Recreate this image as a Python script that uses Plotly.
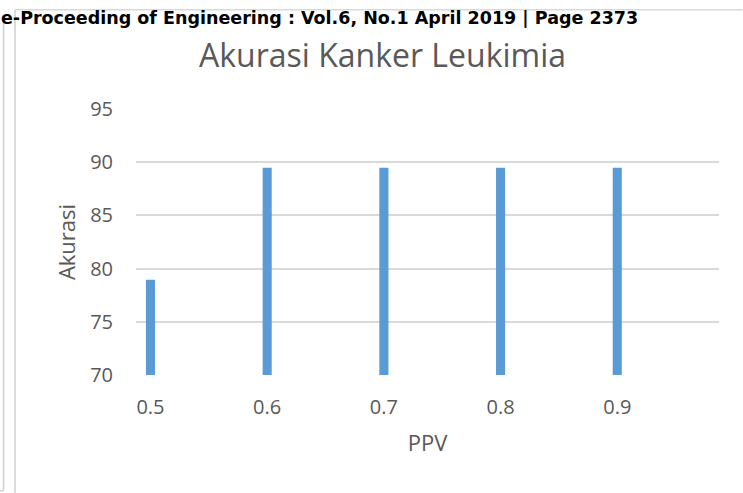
import plotly.graph_objects as go

# ---- data ----
ppv = [0.5, 0.6, 0.7, 0.8, 0.9]
akurasi = [78.95, 89.47, 89.47, 89.47, 89.47]
x_tick_labels = ["0.5", "0.6", "0.7", "0.8", "0.9"]
y_ticks = [70, 75, 80, 85, 90, 95]

W, H = 743, 493
L, R, T, B = 136, 743 - 719.3, 109.3, 493 - 375.3
PW, PH = W - L - R, H - T - B

def px(xp):
    return (xp - L) / PW

def py(yp):
    return (H - B - yp) / PH

GREY = "#595959"
fig = go.Figure()
fig.add_trace(go.Bar(
    x=ppv, y=akurasi, width=0.0078,
    marker=dict(color="#5B9BD5", line=dict(width=0)),
    base=0,
))

fig.update_layout(
    width=W, height=H,
    margin=dict(l=L, r=R, t=T, b=B, pad=0),
    paper_bgcolor="white", plot_bgcolor="white",
    showlegend=False,
    font=dict(family="Open Sans", color=GREY),
    xaxis=dict(
        range=[0.48758, 0.98719], tickvals=ppv, ticktext=x_tick_labels,
        showgrid=False, zeroline=False, showline=False,
        tickfont=dict(size=20, color=GREY), ticklabelstandoff=18,
        title=dict(text="PPV", font=dict(size=22, color=GREY), standoff=16),
    ),
    yaxis=dict(
        range=[70, 95], tickvals=y_ticks,
        showgrid=True, gridcolor="#D9D9D9", gridwidth=1.5,
        zeroline=False, showline=False,
        tickfont=dict(size=20, color=GREY), ticklabelstandoff=22,
        title=dict(text="Akurasi", font=dict(size=22, color=GREY), standoff=8),
    ),
    annotations=[
        dict(text="Akurasi Kanker Leukimia", xref="paper", yref="paper",
             x=px(383), y=py(55), xanchor="center", yanchor="middle",
             showarrow=False, font=dict(size=32, color=GREY, family="Open Sans")),
        dict(text="<b>e-Proceeding of Engineering : Vol.6, No.1 April 2019 | Page 2373</b>",
             xref="paper", yref="paper", x=px(-1), y=py(18),
             xanchor="left", yanchor="middle", showarrow=False,
             font=dict(size=17.5, color="black", family="DejaVu Sans")),
    ],
    shapes=[
        dict(type="line", xref="paper", yref="paper", x0=px(3.5), x1=px(3.5),
             y0=py(20), y1=py(491), line=dict(color="#D0D0D0", width=1.5)),
        dict(type="line", xref="paper", yref="paper", x0=px(0), x1=px(3.5),
             y0=py(491), y1=py(491), line=dict(color="#D0D0D0", width=1.5)),
        dict(type="line", xref="paper", yref="paper", x0=px(15), x1=px(15),
             y0=py(10), y1=py(493), line=dict(color="#D0D0D0", width=1.5)),
        dict(type="line", xref="paper", yref="paper", x0=px(15), x1=px(743),
             y0=py(10), y1=py(10), line=dict(color="#D9D9D9", width=1.5), layer="below"),
    ],
)

fig.write_html("out.html", config={"displayModeBar": False},
               post_script="document.body.style.margin='0';")
